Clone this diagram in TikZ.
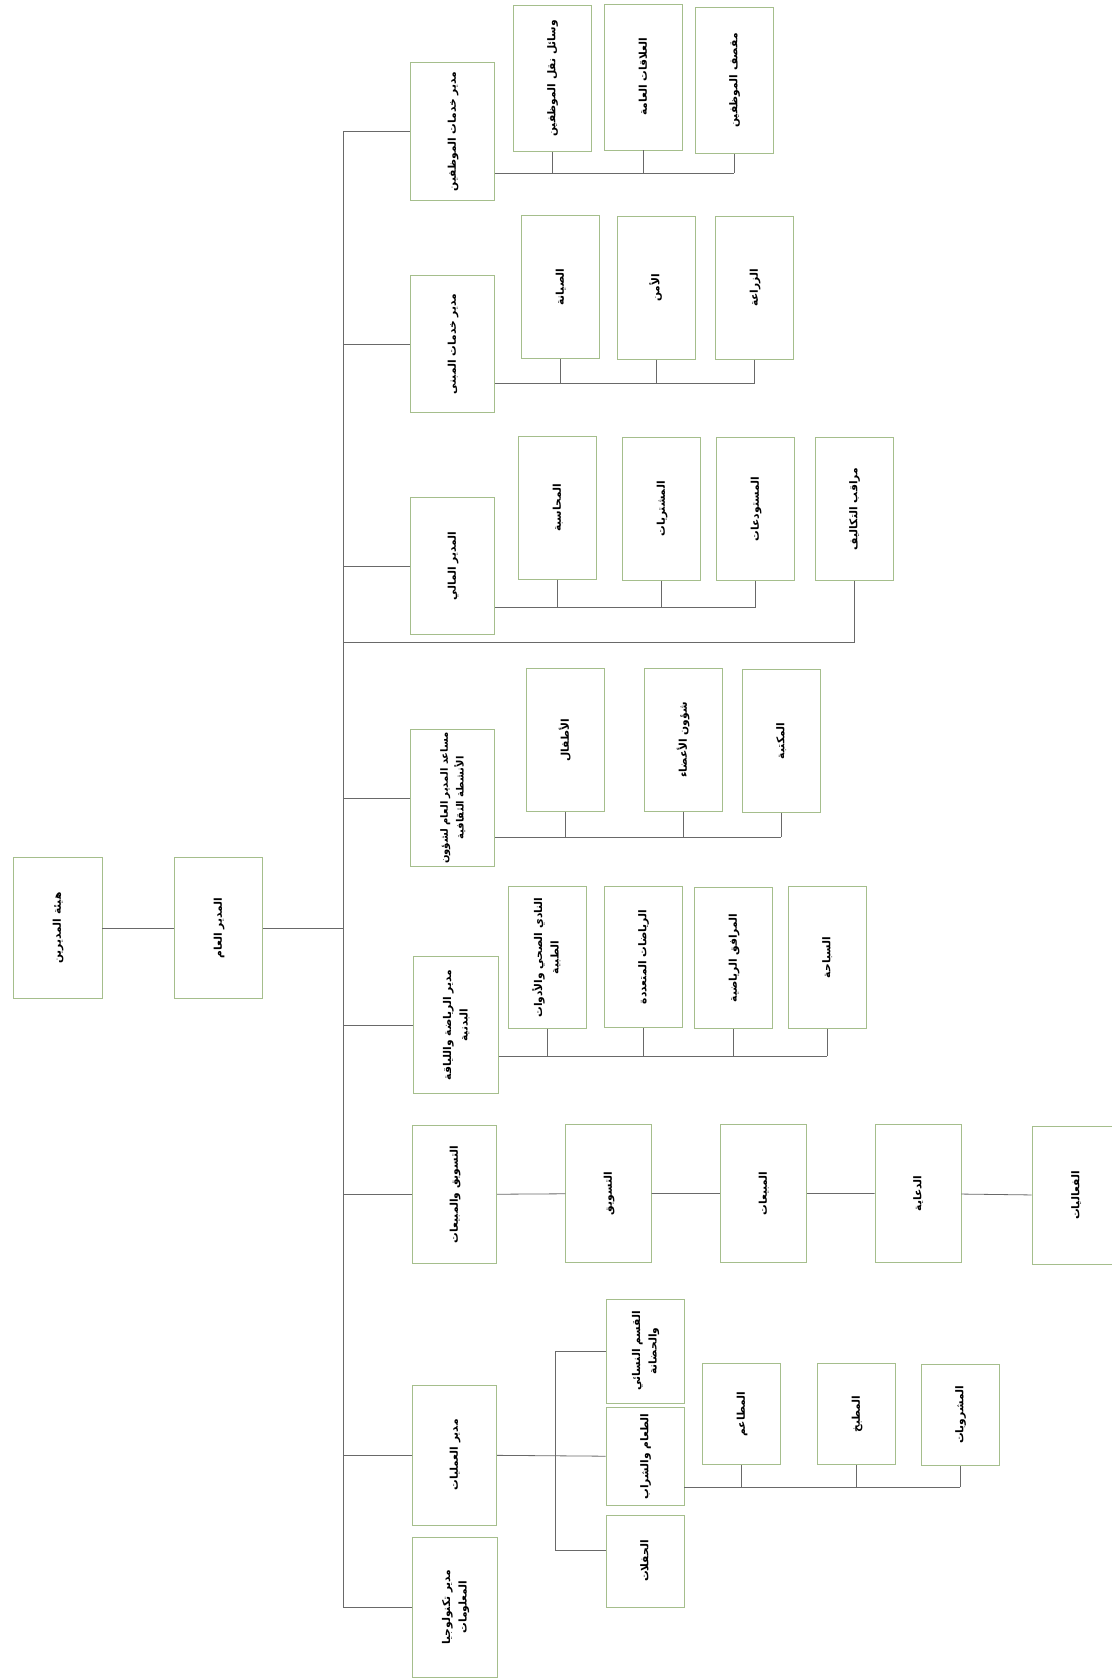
\documentclass[tikz,border=0pt]{standalone}
\usepackage{fontspec}
\usepackage{graphicx}
\newfontfamily\arabicfont[Script=Arabic]{DejaVu Sans}
\TeXXeTstate=1
\usetikzlibrary{positioning,calc}
\definecolor{boxgreen}{RGB}{165,190,140}
\definecolor{lnkgray}{RGB}{105,105,105}
\newcommand{\arl}[1]{{\arabicfont\bfseries\beginR #1\endR}}
\newcommand{\vlbl}[1]{\rotatebox{90}{\renewcommand{\arraystretch}{1.25}\begin{tabular}{@{}c@{}}#1\end{tabular}}}
\tikzset{
  orgbox/.style={draw=boxgreen,fill=white,line width=0.6pt,inner sep=1pt,font=\fontsize{8}{10}\selectfont},
  headbox/.style={orgbox,minimum width=63.5pt,minimum height=103pt},
  subbox/.style={orgbox,minimum width=58.5pt,minimum height=107pt},
  link/.style={draw=lnkgray,line width=0.6pt}
}

\begin{document}
\begin{tikzpicture}[x=0.75pt,y=-0.75pt]
  \useasboundingbox (0,0) rectangle (1112,1680);

  % Top of the chart
  \node[orgbox, minimum width=66.75pt, minimum height=106pt] (root) at (57.5,928) {\vlbl{\arl{هيئة المديرين}}};
  \node[orgbox, minimum width=66pt, minimum height=106pt] (gm) at (218.5,928) {\vlbl{\arl{المدير العام}}};
  \coordinate (tk) at (343,0);

  % Department heads
  \node[headbox] (ha) at (452.5,131.5) {\vlbl{\arl{مدير خدمات الموظفين}}};
  \node[headbox] (hb) at (452.5,344) {\vlbl{\arl{مدير خدمات المبنى}}};
  \node[headbox] (hc) at (452.5,566) {\vlbl{\arl{المدير المالي}}};
  \node[headbox, font=\fontsize{7.5}{9.5}\selectfont] (hd) at (452.5,798) {\vlbl{\arl{مساعد المدير العام لشؤون}\\\arl{الأنشطة الثقافية}}};
  \node[headbox] (he) at (456,1025) {\vlbl{\arl{مدير الرياضة واللياقة}\\\arl{البدنية}}};
  \node[headbox, minimum height=104pt] (hf) at (454.5,1194.5) {\vlbl{\arl{التسويق والمبيعات}}};
  \node[headbox, minimum height=105pt] (hg) at (454.5,1455) {\vlbl{\arl{مدير العمليات}}};
  \node[headbox, minimum height=105pt] (hh) at (455,1607) {\vlbl{\arl{مدير تكنولوجيا}\\\arl{المعلومات}}};

  % Trunk
  \draw[link] (root) -- (gm);
  \draw[link] (gm) -- (gm -| tk);
  \draw[link] (ha -| tk) -- (hh -| tk);
  \foreach \h in {ha,hb,hc,hd,he,hf,hg,hh}
    \draw[link] (\h -| tk) -- (\h.west);

  % Staff services
  \node[subbox, minimum height=109.5pt] (a1) at (552,78.5) {\vlbl{\arl{وسائل نقل الموظفين}}};
  \node[subbox, minimum height=109.5pt] (a2) at (643.5,77) {\vlbl{\arl{العلاقات العامة}}};
  \node[subbox, minimum height=109.5pt] (a3) at (734,80.5) {\vlbl{\arl{مقصف الموظفين}}};
  \coordinate (busa) at (0,173);
  \draw[link] (ha.east |- busa) -- (a3 |- busa);
  \foreach \c in {a1,a2,a3}
    \draw[link] (\c.south) -- (\c |- busa);

  % Building services
  \node[subbox] (b1) at (560.5,287) {\vlbl{\arl{الصيانة}}};
  \node[subbox] (b2) at (656,288) {\vlbl{\arl{الأمن}}};
  \node[subbox] (b3) at (754.5,288) {\vlbl{\arl{الزراعة}}};
  \coordinate (busb) at (0,383);
  \draw[link] (hb.east |- busb) -- (b3 |- busb);
  \foreach \c in {b1,b2,b3}
    \draw[link] (\c.south) -- (\c |- busb);

  % Finance
  \node[subbox] (c1) at (557.5,508) {\vlbl{\arl{المحاسبة}}};
  \node[subbox] (c2) at (661.5,509) {\vlbl{\arl{المشتريات}}};
  \node[subbox] (c3) at (755.5,509) {\vlbl{\arl{المستودعات}}};
  \node[subbox] (c4) at (854,509) {\vlbl{\arl{مراقب التكاليف}}};
  \coordinate (busc) at (0,607);
  \coordinate (busc4) at (0,642);
  \draw[link] (hc.east |- busc) -- (c3 |- busc);
  \foreach \c in {c1,c2,c3}
    \draw[link] (\c.south) -- (\c |- busc);
  \draw[link] (c4.south) -- (c4 |- busc4) -- (tk |- busc4);

  % Cultural activities
  \node[subbox] (d1) at (565.5,740) {\vlbl{\arl{الأطفال}}};
  \node[subbox] (d2) at (683.5,740) {\vlbl{\arl{شؤون الأعضاء}}};
  \node[subbox] (d3) at (781,741) {\vlbl{\arl{المكتبة}}};
  \coordinate (busd) at (0,837);
  \draw[link] (hd.east |- busd) -- (d3 |- busd);
  \foreach \c in {d1,d2,d3}
    \draw[link] (\c.south) -- (\c |- busd);

  % Sports and fitness
  \node[subbox, minimum height=106pt] (e1) at (547,957.5) {\vlbl{\arl{النادي الصحي والأدوات}\\\arl{الطبية}}};
  \node[subbox, minimum height=106pt] (e2) at (643,957) {\vlbl{\arl{الرياضات المتعددة}}};
  \node[subbox, minimum height=106pt] (e3) at (733.5,958) {\vlbl{\arl{المرافق الرياضية}}};
  \node[subbox, minimum height=106pt] (e4) at (827,957.5) {\vlbl{\arl{السباحة}}};
  \coordinate (buse) at (0,1056);
  \draw[link] (he.east |- buse) -- (e4 |- buse);
  \foreach \c in {e1,e2,e3,e4}
    \draw[link] (\c.south) -- (\c |- buse);

  % Marketing chain
  \node[subbox, minimum width=64pt, minimum height=103pt] (f1) at (608.5,1193.5) {\vlbl{\arl{التسويق}}};
  \node[subbox, minimum width=65pt, minimum height=103pt] (f2) at (763.5,1193.5) {\vlbl{\arl{المبيعات}}};
  \node[subbox, minimum width=64.5pt, minimum height=103pt] (f3) at (918,1193.5) {\vlbl{\arl{الدعاية}}};
  \node[subbox, minimum width=66pt, minimum height=103pt] (f4) at (1076,1195.5) {\vlbl{\arl{الفعاليات}}};
  \draw[link] (hf) -- (f1) -- (f2) -- (f3) -- (f4);

  % Operations
  \node[subbox, minimum height=78pt] (g1) at (645,1351) {\vlbl{\arl{القسم النسائي}\\\arl{والحضانة}}};
  \node[subbox, minimum height=73pt] (g2) at (645,1456.5) {\vlbl{\arl{الطعام والشراب}}};
  \node[subbox, minimum height=69pt] (g3) at (645,1561) {\vlbl{\arl{الحفلات}}};
  \coordinate (gbus) at (555,0);
  \draw[link] (hg) -- (g2);
  \draw[link] (g1.west) -- (g1.west -| gbus) -- (g3.165 -| gbus) -- (g3.165);

  \node[subbox, minimum height=76pt] (k1) at (741.5,1414) {\vlbl{\arl{المطاعم}}};
  \node[subbox, minimum height=76pt] (k2) at (856.5,1414) {\vlbl{\arl{المطبخ}}};
  \node[subbox, minimum height=76pt] (k3) at (960,1415) {\vlbl{\arl{المشروبات}}};
  \coordinate (busk) at (0,1487);
  \draw[link] (g2.east |- busk) -- (k3 |- busk);
  \foreach \c in {k1,k2,k3}
    \draw[link] (\c.south) -- (\c |- busk);

\end{tikzpicture}
\end{document}
